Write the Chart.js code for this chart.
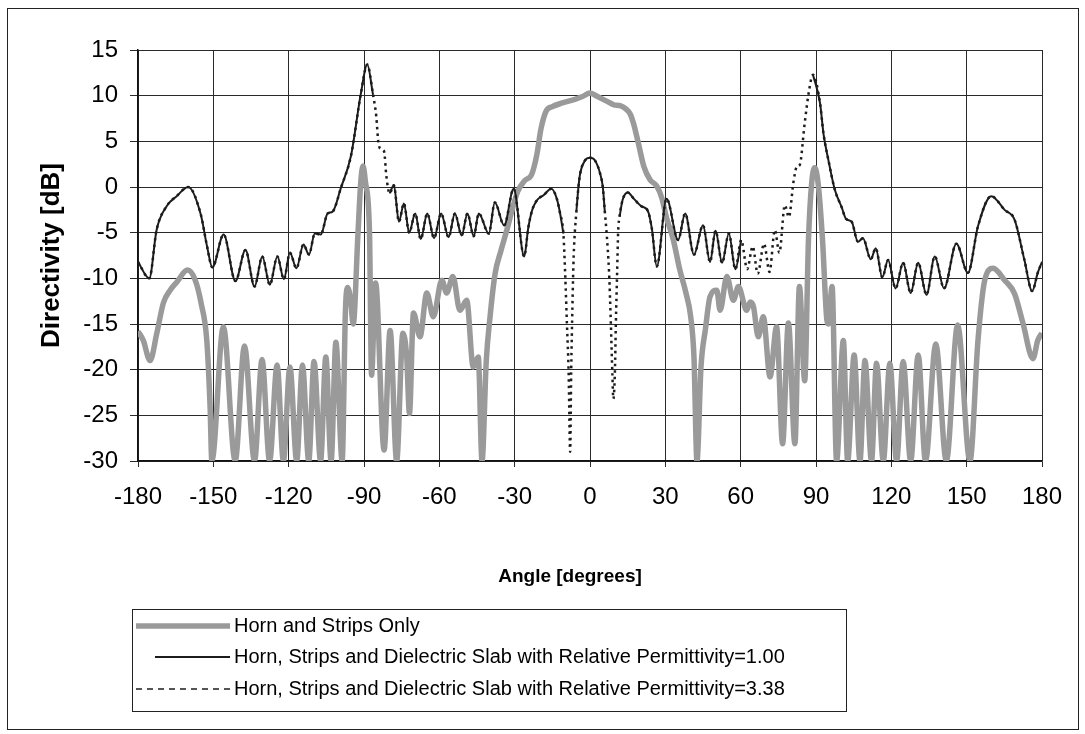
<!DOCTYPE html>
<html>
<head>
<meta charset="utf-8">
<script src="https://cdn.jsdelivr.net/npm/chart.js@4.4.1/dist/chart.umd.min.js"></script>
<style>
  html, body { margin: 0; padding: 0; background: #fff; }
</style>
</head>
<body>
<canvas id="pattern" width="1085" height="734"></canvas>
<script>
// Directivity patterns, angle in degrees, value in dB
const hornAngles = [-180, -177.9, -175.2, -172.5, -169.9, -167.2, -164.5, -160.3, -157.2, -154.8, -152.6, -151.3, -150.6,
  -146.0, -141.3, -137.6, -133.6, -130.6, -127.6, -124.6, -122.1, -119.5, -116.8, -114.5, -112.0, -109.9, -107.3,
  -105.2, -103.1, -101.2, -98.7, -97.4, -96.6, -95.4, -94.3, -92.4, -91.3, -90.4, -89.4, -87.8, -87.0, -85.4,
  -82.0, -79.6, -77.0, -74.5, -73.0, -71.9, -70.3, -67.7, -65.0, -62.4, -59.0, -57.1, -54.6, -51.8, -49.1, -46.5,
  -44.5, -43.0, -41.3, -39.8, -37.8, -35.5, -33.2, -31.0, -28.8, -26.0, -23.2, -21.2, -19.5, -17.5, -15.0, -11.0,
  -6.0, -3.0, 0, 3.0, 6.6, 9.5, 12.0, 14.5, 16.0, 17.5, 19.5, 21.5, 23.9, 26.6, 28.6, 30.5, 33.2, 35.7, 38.2,
  40.1, 41.4, 42.6, 44.2, 46.0, 47.8, 50.5, 51.8, 54.5, 57.1, 59.1, 62.4, 63.8, 65.1, 67.0, 69.0, 71.7, 74.3,
  76.7, 79.0, 81.6, 83.4, 85.5, 87.0, 88.3, 89.5, 90.8, 92.6, 94.3, 94.9, 96.4, 98.2, 100.9, 102.6, 105.2, 107.5,
  109.5, 112.1, 114.1, 116.8, 119.4, 122.1, 124.7, 127.7, 130.7, 133.6, 137.7, 141.9, 146.4, 151.3, 154.5, 157.2,
  160.5, 165.1, 169.1, 172.4, 176.4, 178.3, 180];
const hornDb = [-15.8, -16.8, -19.0, -16.0, -12.7, -11.3, -10.4, -9.1, -10.2, -12.8, -16.8, -24.0, -30,
  -15.3, -30, -17.4, -30, -18.9, -30, -19.5, -30, -19.7, -30, -19.5, -30, -19.1, -30,
  -18.6, -30, -17.0, -30, -13.6, -11.0, -12.2, -15.0, -5.1, 0.5, 2.3, 0.5, -5.1, -20.6, -10.5,
  -28.8, -15.7, -30, -16.0, -18.6, -24.8, -13.8, -16.4, -11.6, -14.2, -10.2, -11.6, -9.8, -13.5, -12.4, -19.7,
  -18.6, -30, -19.0, -14.2, -9.5, -7.0, -4.8, -2.5, -0.5, 0.7, 1.4, 3.5, 6.4, 8.3, 8.8, 9.2,
  9.6, 9.9, 10.3, 9.9, 9.4, 9.0, 8.9, 8.5, 8.0, 6.8, 4.5, 2.2, 0.8, 0.1, -1.2, -3.4, -5.8, -9.0, -11.6,
  -14.2, -18.6, -30, -19.7, -15.5, -12.0, -11.3, -13.5, -9.8, -12.4, -10.9, -13.5, -12.6, -13.1, -16.4, -14.2, -20.8, -15.3,
  -28.1, -14.9, -28.1, -10.9, -21.2, -5.8, 0.5, 2.1, 0.5, -5.8, -14.5, -15.0, -10.9, -30, -16.8, -30, -18.4, -30,
  -19.0, -30, -19.3, -30, -19.3, -30, -19.1, -30, -18.4, -30, -17.2, -30, -15.1, -30, -16.8, -10.2,
  -8.9, -10.2, -11.7, -14.9, -18.8, -16.8, -16.0];

// slab with relative permittivity 1.00 (breaks where only the 3.38 trace shows)
const slab100Angles = [-180, -175.5, -172.6, -168.6, -164.6, -160.0, -155.0, -152.5, -150.4, -145.9, -141.2, -137.2,
  -133.6, -130.5, -127.5, -124.5, -121.9, -119.5, -116.9, -114.1, -111.9, -109.6, -107.2, -104.5, -102.5, -99.2,
  -95.2, -91.2, -88.7, -86.4, -83.0, -79.8, -78.1, -76.1, -74.1, -72.0, -69.6, -67.4, -64.8, -62.1, -59.3, -56.3,
  -53.8, -51.1, -48.8, -46.3, -44.3, -40.3, -37.9, -34.2, -30.4, -26.2, -24.6, -23.0, -21.0, -18.5, -15.4, -13.2,
  -11.9, -10.6, -8.0, -5.4, -4.6, -3.9, -2.0, 0, 2.0, 4.0, 5.1, 5.9, 9.2, 11.8, 13.0, 15.0, 17.5, 20.4, 23.0,
  24.6, 26.6, 30.5, 35.1, 37.9, 41.4, 45.0, 47.8, 50.0, 52.6, 55.3, 57.9, 60.2, 75.0, 88.8, 91.6, 93.0, 94.9,
  97.5, 100.2, 102.0, 104.2, 106.7, 108.7, 111.8, 113.8, 116.4, 118.7, 121.7, 124.7, 127.7, 130.7, 134.0, 137.3,
  141.0, 145.9, 150.5, 154.5, 159.8, 165.1, 169.1, 173.0, 176.1, 178.3, 180];
const slab100Db = [-8.2, -10.0, -4.7, -2.1, -1.0, 0.0, -3.0, -6.5, -8.8, -5.2, -10.3, -6.9,
  -10.9, -7.6, -10.7, -7.6, -10.1, -7.2, -8.9, -6.3, -7.4, -5.1, -5.2, -2.9, -2.7, -0.1,
  3.4, 10.3, 13.4, 10.1, null, -0.7, 0.2, -3.8, -1.8, -5.0, -2.9, -5.7, -2.9, -5.6, -2.9, -5.5,
  -2.9, -5.3, -2.9, -5.4, -2.9, -5.1, -1.7, -4.2, -0.2, -7.6, -4.5, -2.5, -1.4, -0.9, -0.2, -1.3,
  -2.9, -5.1, null, -2.6, 0.0, 1.5, 2.9, 3.2, 2.9, 1.5, 0.0, -2.7, null, -3.2, -1.4, -0.6, -1.3, -2.1, -2.6,
  -4.5, -8.7, -1.3, -5.8, -2.9, -7.4, -4.2, -8.2, -4.8, -8.3, -5.1, -9.0, -5.8, null, 12.3, 9.2, 5.8, 3.0,
  -0.3, -2.2, -3.5, -3.8, -6.0, -5.6, -7.9, -6.7, -9.9, -8.0, -11.1, -8.3, -11.6, -8.3, -11.8, -7.6,
  -11.1, -6.2, -9.4, -4.3, -1.0, -2.5, -3.6, -8.0, -11.4, -9.4, -8.2];

// slab with relative permittivity 3.38
const slab338Angles = [-180, -175.5, -172.6, -168.6, -164.6, -160.0, -155.0, -152.5, -150.4, -145.9, -141.2, -137.2,
  -133.6, -130.5, -127.5, -124.5, -121.9, -119.5, -116.9, -114.1, -111.9, -109.6, -107.2, -104.5, -102.5, -99.2,
  -95.2, -91.2, -88.7, -86.4, -85.1, -84.4, -83.6, -82.0, -81.1, -79.8, -78.1, -76.1, -74.1, -72.0, -69.6, -67.4,
  -64.8, -62.1, -59.3, -56.3, -53.8, -51.1, -48.8, -46.3, -44.3, -40.3, -37.9, -34.2, -30.4, -26.2, -24.6, -23.0,
  -21.0, -18.5, -15.4, -13.2, -11.9, -10.6, -9.9, -9.2, -8.5, -7.9, -7.5, -7.0, -6.5, -5.4, -4.6, -3.9, -2.0, 0,
  2.0, 4.0, 5.1, 5.9, 6.6, 7.6, 8.3, 8.9, 9.3, 9.9, 10.3, 10.8, 11.2, 11.8, 13.0, 15.0, 17.5, 20.4, 23.0, 24.6,
  26.6, 30.5, 35.1, 37.9, 41.4, 45.0, 47.8, 50.0, 52.6, 55.3, 57.9, 60.2, 62.6, 64.8, 66.8, 69.3, 71.5, 73.6,
  75.4, 77.6, 79.2, 81.0, 82.3, 83.5, 85.5, 87.2, 88.8, 91.6, 93.0, 94.9, 97.5, 100.2, 102.0, 104.2, 106.7,
  108.7, 111.8, 113.8, 116.4, 118.7, 121.7, 124.7, 127.7, 130.7, 134.0, 137.3, 141.0, 145.9, 150.5, 154.5,
  159.8, 165.1, 169.1, 173.0, 176.1, 178.3, 180];
const slab338Db = [-8.2, -10.0, -4.7, -2.1, -1.0, 0.0, -3.0, -6.5, -8.8, -5.2, -10.3, -6.9,
  -10.9, -7.6, -10.7, -7.6, -10.1, -7.2, -8.9, -6.3, -7.4, -5.1, -5.2, -2.9, -2.7, -0.1,
  3.4, 10.3, 13.4, 10.1, 7.7, 5.2, 4.2, 3.9, 1.2, -0.7, 0.2, -3.8, -1.8, -5.0, -2.9, -5.7,
  -2.9, -5.6, -2.9, -5.5, -2.9, -5.3, -2.9, -5.4, -2.9, -5.1, -1.7, -4.2, -0.2, -7.6, -4.5, -2.5,
  -1.4, -0.9, -0.2, -1.3, -2.9, -5.1, -9.4, -14.9, -20.4, -29.0, -20.4, -13.1, -7.6, -2.6, 0.0, 1.5, 2.9, 3.2,
  2.9, 1.5, 0.0, -2.7, -5.0, -9.4, -14.9, -20.4, -23.2, -20.4, -14.9, -9.4, -5.0, -3.2, -1.4, -0.6, -1.3, -2.1, -2.6, -4.5,
  -8.7, -1.3, -5.8, -2.9, -7.4, -4.2, -8.2, -4.8, -8.3, -5.1, -9.0, -5.8, -9.0, -6.5, -9.5, -6.2, -9.3, -4.7,
  -7.2, -2.0, -3.3, 0.5, 2.2, 2.4, 7.0, 10.5, 12.3, 9.2, 5.8, 3.0, -0.3, -2.2, -3.5, -3.8, -6.0,
  -5.6, -7.9, -6.7, -9.9, -8.0, -11.1, -8.3, -11.6, -8.3, -11.8, -7.6, -11.1, -6.2, -9.4, -4.3,
  -1.0, -2.5, -3.6, -8.0, -11.4, -9.4, -8.2];

const seriesNames = [
  'Horn and Strips Only',
  'Horn, Strips and Dielectric Slab with Relative Permittivity=1.00',
  'Horn, Strips and Dielectric Slab with Relative Permittivity=3.38'
];
const xTitle = 'Angle [degrees]';
const yTitle = 'Directivity [dB]';

function toPoints(xs, ys) {
  return xs.map((x, i) => ({ x: x, y: ys[i] }));
}

const FONT = "'Liberation Sans', Arial, sans-serif";
Chart.defaults.font.family = FONT;
Chart.defaults.color = '#000';

// white page, outer frame, x title (sits a bit left of centre) and the boxed key
const frameAndKey = {
  id: 'frameAndKey',
  beforeDraw(chart) {
    const c = chart.ctx;
    c.save();
    c.fillStyle = '#fff';
    c.fillRect(0, 0, chart.width, chart.height);
    c.restore();
  },
  afterDraw(chart) {
    const c = chart.ctx;
    c.save();
    c.strokeStyle = '#222';
    c.lineWidth = 1;
    c.strokeRect(7.5, 8.5, 1071, 721);

    c.fillStyle = '#000';
    c.font = 'bold 19px ' + FONT;
    c.textAlign = 'center';
    c.textBaseline = 'middle';
    c.fillText(xTitle, 570, 577);

    c.strokeStyle = '#222';
    c.lineWidth = 1;
    c.strokeRect(132.5, 609.5, 714, 102);
    const rows = [626, 657, 689];
    const starts = [136, 155, 136];
    const keyDash = [[], [], [6, 5]];
    const sets = chart.data.datasets;
    rows.forEach((y, i) => {
      const ds = sets[i];
      c.beginPath();
      c.strokeStyle = ds.borderColor;
      c.lineWidth = i === 2 ? 1.5 : ds.borderWidth;
      c.setLineDash(keyDash[i]);
      c.moveTo(starts[i], y);
      c.lineTo(230, y);
      c.stroke();
      c.setLineDash([]);
      c.fillStyle = '#000';
      c.font = '20px ' + FONT;
      c.textBaseline = 'middle';
      c.textAlign = 'left';
      c.fillText(ds.label, 234, y);
    });
    c.restore();
  }
};

new Chart(document.getElementById('pattern'), {
  type: 'line',
  data: {
    datasets: [
      {
        label: seriesNames[0],
        data: toPoints(hornAngles, hornDb),
        borderColor: '#9a9a9a',
        borderWidth: 5.5,
        order: 3,
        clip: 0
      },
      {
        label: seriesNames[1],
        data: toPoints(slab100Angles, slab100Db),
        borderColor: '#1c1c1c',
        borderWidth: 2,
        order: 2,
        spanGaps: false
      },
      {
        label: seriesNames[2],
        data: toPoints(slab338Angles, slab338Db),
        borderColor: '#1c1c1c',
        borderWidth: 2.5,
        borderDash: [2.5, 4],
        order: 1
      }
    ]
  },
  options: {
    responsive: false,
    animation: false,
    layout: { padding: { left: 10, right: 43, top: 50, bottom: 143 } },
    elements: {
      point: { radius: 0 },
      line: { cubicInterpolationMode: 'monotone', fill: false }
    },
    plugins: {
      legend: { display: false },
      tooltip: { enabled: false }
    },
    scales: {
      x: {
        type: 'linear',
        min: -180,
        max: 180,
        ticks: { stepSize: 30, font: { size: 24 }, color: '#000', padding: 16 },
        grid: { color: '#2a2a2a', lineWidth: 1, tickLength: 6 },
        border: { color: '#111', width: 1.5 },
        afterFit(scale) { scale.height = 130; }
      },
      y: {
        min: -30,
        max: 15,
        ticks: { stepSize: 5, font: { size: 24 }, color: '#000', padding: 12 },
        grid: { color: '#2a2a2a', lineWidth: 1, tickLength: 8 },
        border: { color: '#111', width: 1.5 },
        title: {
          display: true,
          text: yTitle,
          font: { size: 26, weight: 'bold' },
          color: '#000',
          padding: { top: 26, bottom: 0 }
        },
        afterFit(scale) { scale.width = 128; }
      }
    }
  },
  plugins: [frameAndKey]
});
</script>
</body>
</html>
